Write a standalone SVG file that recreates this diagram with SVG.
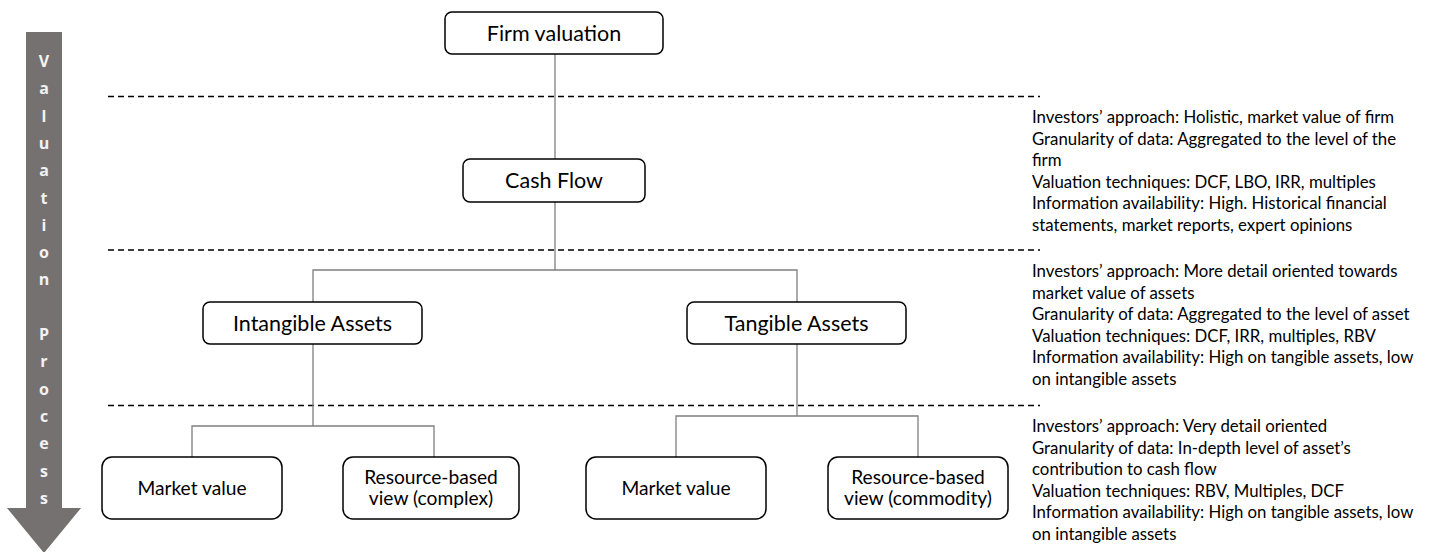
<svg xmlns="http://www.w3.org/2000/svg" width="1431" height="552" viewBox="0 0 1431 552">
<style>
.box{fill:#fff;stroke:#000;stroke-width:1.5}
.lbl{font-family:Lato,"Open Sans",sans-serif;fill:#000;text-anchor:middle}
.big{font-size:21.5px}
.mid{font-size:19.2px}
.conn{fill:none;stroke:#7f7f7f;stroke-width:1.3}
.dash{fill:none;stroke:#000;stroke-width:1.3;stroke-dasharray:6 4}
.side{font-family:Lato,"Open Sans",sans-serif;font-size:16.8px;fill:#000}
.arr{font-family:"Open Sans",sans-serif;font-size:16px;font-weight:bold;fill:#f2f2f2;text-anchor:middle}
</style>
<g id="process-arrow">
<polygon points="26,32 62,32 62,508 81,508 44,553 7,508 26,508" fill="#767171"/>
<text class="arr" x="44" y="67">V</text>
<text class="arr" x="44" y="94.3">a</text>
<text class="arr" x="44" y="121.6">l</text>
<text class="arr" x="44" y="148.9">u</text>
<text class="arr" x="44" y="176.2">a</text>
<text class="arr" x="44" y="203.5">t</text>
<text class="arr" x="44" y="230.8">i</text>
<text class="arr" x="44" y="258.1">o</text>
<text class="arr" x="44" y="285.4">n</text>
<text class="arr" x="44" y="340">P</text>
<text class="arr" x="44" y="367.3">r</text>
<text class="arr" x="44" y="394.6">o</text>
<text class="arr" x="44" y="421.9">c</text>
<text class="arr" x="44" y="449.2">e</text>
<text class="arr" x="44" y="476.5">s</text>
<text class="arr" x="44" y="503.8">s</text>
</g>
<g id="separators">
<line class="dash" x1="108" y1="96.5" x2="1040" y2="96.5"/>
<line class="dash" x1="108" y1="250" x2="1040" y2="250"/>
<line class="dash" x1="108" y1="405.5" x2="1040" y2="405.5"/>
</g>
<g id="connectors">
<line class="conn" x1="555" y1="54" x2="555" y2="159"/>
<polyline class="conn" points="555,202 555,270"/>
<polyline class="conn" points="313,302 313,270 797,270 797,302"/>
<polyline class="conn" points="192,457 192,426 434,426 434,457"/>
<line class="conn" x1="313" y1="344" x2="313" y2="426"/>
<polyline class="conn" points="676,457 676,416 918,416 918,457"/>
<line class="conn" x1="797" y1="344" x2="797" y2="416"/>
</g>
<g id="firm-valuation">
<rect class="box" x="445" y="12" width="218" height="42" rx="7"/>
<text class="lbl big" x="554" y="40.5">Firm valuation</text>
</g>
<g id="cash-flow">
<rect class="box" x="463" y="159" width="182" height="43" rx="7"/>
<text class="lbl big" x="554" y="188">Cash Flow</text>
</g>
<g id="intangible-assets">
<rect class="box" x="203" y="302" width="219" height="42" rx="7"/>
<text class="lbl big" x="312.5" y="331">Intangible Assets</text>
</g>
<g id="tangible-assets">
<rect class="box" x="687" y="302" width="219" height="42" rx="7"/>
<text class="lbl big" x="796.5" y="331">Tangible Assets</text>
</g>
<g id="market-value-intangible">
<rect class="box" x="102" y="457" width="180" height="62" rx="10"/>
<text class="lbl mid" x="192" y="495">Market value</text>
</g>
<g id="rbv-complex">
<rect class="box" x="343" y="457" width="176" height="62" rx="10"/>
<text class="lbl mid" x="431" y="484">Resource-based</text>
<text class="lbl mid" x="431" y="505">view (complex)</text>
</g>
<g id="market-value-tangible">
<rect class="box" x="586" y="457" width="180" height="62" rx="10"/>
<text class="lbl mid" x="676" y="495">Market value</text>
</g>
<g id="rbv-commodity">
<rect class="box" x="828" y="457" width="180" height="62" rx="10"/>
<text class="lbl mid" x="918" y="484">Resource-based</text>
<text class="lbl mid" x="918" y="505">view (commodity)</text>
</g>
<g id="level1-notes">
<text class="side" x="1032" y="123">Investors’ approach: Holistic, market value of firm</text>
<text class="side" x="1032" y="144.5">Granularity of data: Aggregated to the level of the</text>
<text class="side" x="1032" y="166">firm</text>
<text class="side" x="1032" y="187.5">Valuation techniques: DCF, LBO, IRR, multiples</text>
<text class="side" x="1032" y="209">Information availability: High. Historical financial</text>
<text class="side" x="1032" y="230.5">statements, market reports, expert opinions</text>
</g>
<g id="level2-notes">
<text class="side" x="1032" y="277">Investors’ approach: More detail oriented towards</text>
<text class="side" x="1032" y="298.5">market value of assets</text>
<text class="side" x="1032" y="320">Granularity of data: Aggregated to the level of asset</text>
<text class="side" x="1032" y="341.5">Valuation techniques: DCF, IRR, multiples, RBV</text>
<text class="side" x="1032" y="363">Information availability: High on tangible assets, low</text>
<text class="side" x="1032" y="384.5">on intangible assets</text>
</g>
<g id="level3-notes">
<text class="side" x="1032" y="432">Investors’ approach: Very detail oriented</text>
<text class="side" x="1032" y="453.5">Granularity of data: In-depth level of asset’s</text>
<text class="side" x="1032" y="475">contribution to cash flow</text>
<text class="side" x="1032" y="496.5">Valuation techniques: RBV, Multiples, DCF</text>
<text class="side" x="1032" y="518">Information availability: High on tangible assets, low</text>
<text class="side" x="1032" y="539.5">on intangible assets</text>
</g>
</svg>
